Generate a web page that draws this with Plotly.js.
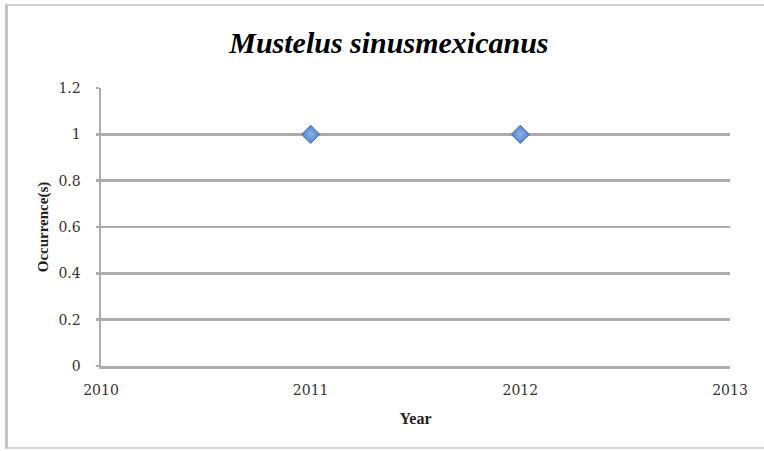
<!DOCTYPE html>
<html>
<head>
<meta charset="utf-8">
<script src="https://cdn.plot.ly/plotly-3.0.1.min.js"></script>
<style>
  html, body { margin: 0; padding: 0; background: #ffffff; overflow: hidden; }
  #wrap { position: relative; width: 764px; height: 451px; overflow: hidden; }
  #frame {
    position: absolute; left: 5px; top: 4px; width: 800px; height: 441px;
    border-left: 3px solid #c4c4c4; border-top: 2px solid #d0d0d0; border-bottom: 2px solid #d4d4d4;
    border-right: none;
    pointer-events: none; z-index: 5;
  }
  #chart { position: absolute; left: 0; top: 0; width: 764px; height: 451px; }
</style>
</head>
<body>
<div id="wrap">
  <div id="chart"></div>
  <div id="frame"></div>
</div>
<script>
// Yearly occurrence records
const years = [2011, 2012];
const occurrences = [1, 1];

const xTickValues = [2010, 2011, 2012, 2013];
const yTickValues = [0, 0.2, 0.4, 0.6, 0.8, 1, 1.2];
const yTickLabels = ['0', '0.2', '0.4', '0.6', '0.8', '1', '1.2'];

const serif = '"Liberation Serif", "Times New Roman", serif';
const tickSerif = '"DejaVu Serif", serif';
const lineGray = '#acacac';

const trace = {
  type: 'scatter',
  mode: 'markers',
  x: years,
  y: occurrences,
  marker: {
    symbol: 'diamond',
    size: 14,
    color: '#4f81c9',
    gradient: { type: 'radial', color: '#8db2e6' },
    line: { color: '#3f6fb3', width: 1 }
  },
  hoverinfo: 'x+y',
  showlegend: false
};

const layout = {
  width: 764,
  height: 451,
  margin: { l: 101, r: 34, t: 88, b: 85 },
  paper_bgcolor: '#ffffff',
  plot_bgcolor: '#ffffff',
  title: {
    text: '<b><i>Mustelus sinusmexicanus</i></b>',
    font: { family: serif, size: 30, color: '#000000' },
    xref: 'container',
    x: 0.509,
    xanchor: 'center',
    yref: 'container',
    y: 1 - 42 / 451,
    yanchor: 'middle'
  },
  xaxis: {
    range: [2010, 2013],
    tickvals: xTickValues,
    ticktext: xTickValues.map(String),
    showgrid: false,
    zeroline: false,
    showline: true,
    linecolor: lineGray,
    linewidth: 2.5,
    ticks: '',
    ticklabelstandoff: 10,
    tickfont: { family: tickSerif, size: 14, color: '#333333' },
    title: {
      text: '<b>Year</b>',
      font: { family: serif, size: 16, color: '#222222' },
      standoff: 16
    },
    fixedrange: true
  },
  yaxis: {
    range: [0, 1.2],
    tickvals: yTickValues,
    ticktext: yTickLabels,
    showgrid: true,
    gridcolor: lineGray,
    gridwidth: 2.5,
    zeroline: false,
    showline: true,
    linecolor: lineGray,
    linewidth: 2.5,
    ticks: 'outside',
    ticklen: 3,
    tickcolor: lineGray,
    tickwidth: 2.5,
    ticklabelstandoff: 12,
    tickfont: { family: tickSerif, size: 14, color: '#333333' },
    title: {
      text: '<b>Occurrence(s)</b>',
      font: { family: serif, size: 15, color: '#222222' },
      standoff: 6
    },
    fixedrange: true
  }
};

Plotly.newPlot('chart', [trace], layout, { displayModeBar: false, staticPlot: true });
</script>
</body>
</html>
